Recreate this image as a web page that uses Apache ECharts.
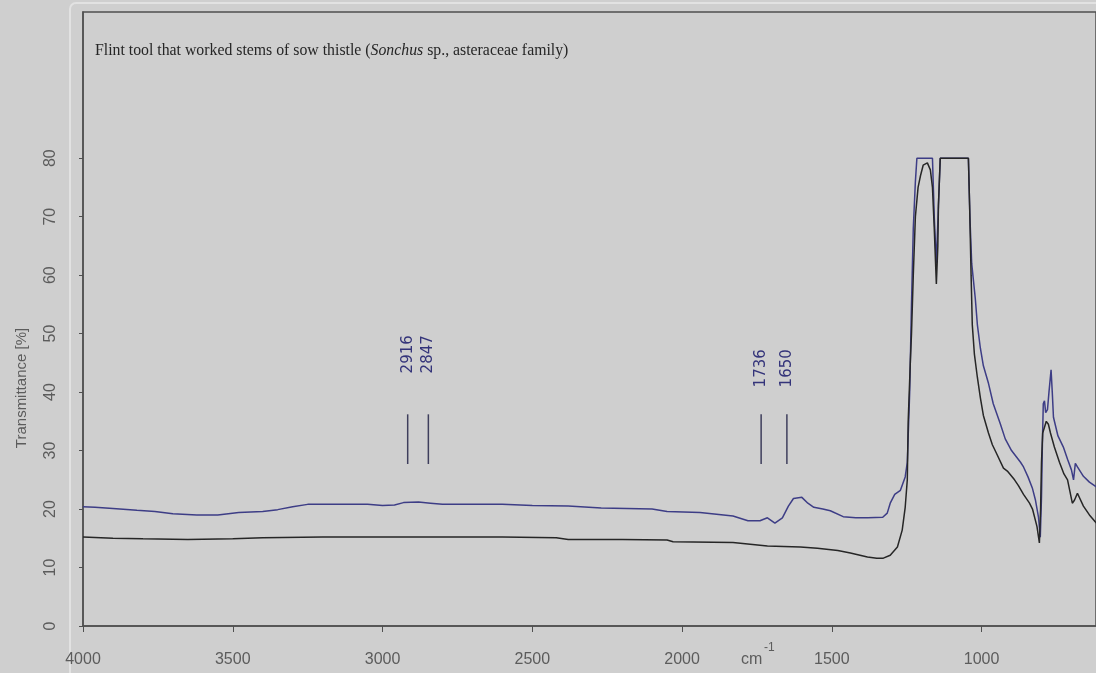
<!DOCTYPE html>
<html>
<head>
<meta charset="utf-8">
<title>IR spectrum – flint tool, sow thistle</title>
<script src="https://cdn.jsdelivr.net/npm/echarts@6/dist/echarts.min.js"></script>
<style>
  html, body { margin: 0; padding: 0; background: #cfcfcf; }
  #chart { width: 1096px; height: 673px; }
</style>
</head>
<body>
<div id="chart"></div>
<script>
// Upper (blue) trace: [wavenumber cm-1, transmittance %]
const spectrumUpper = [
  [4000,20.4],[3960,20.3],[3900,20.1],[3820,19.8],[3760,19.6],[3700,19.2],[3620,19.0],
  [3550,19.0],[3480,19.4],[3400,19.6],[3350,19.9],[3300,20.4],[3250,20.8],[3150,20.8],
  [3050,20.8],[3000,20.6],[2960,20.7],[2930,21.1],[2880,21.2],[2840,21.0],[2800,20.8],
  [2700,20.8],[2600,20.8],[2500,20.6],[2380,20.5],[2270,20.2],[2100,20.0],[2050,19.6],
  [1940,19.4],[1830,18.8],[1780,18.0],[1740,18.0],[1715,18.5],[1690,17.6],[1665,18.5],
  [1645,20.5],[1628,21.8],[1600,22.0],[1580,21.0],[1560,20.3],[1530,20.0],[1505,19.7],
  [1462,18.7],[1420,18.5],[1380,18.5],[1330,18.6],[1315,19.3],[1305,21.0],[1290,22.5],
  [1271,23.2],[1255,25.5],[1248,28],[1240,40],[1234,55],[1228,68],[1221,76],[1216,80],
  [1164,80],[1158,70],[1151,62],[1144,72],[1138,80],[1044,80],[1039,70],[1033,62],
  [1021,56],[1014,51.5],[1004,47.5],[994,44.5],[977,41.5],[961,38],[937,34.5],[921,32],
  [900,30],[870,28],[860,27.2],[845,25.5],[830,23.5],[820,21.5],[810,18.6],[804,15.2],
  [800,22],[797,31],[794,38],[790,38.5],[786,36.5],[780,37],[775,40],[768,43.8],
  [764,40],[760,35.7],[745,32.5],[727,30.6],[713,28.5],[700,26.7],[693,25.0],[687,27.8],
  [680,27.2],[660,25.6],[640,24.6],[617,23.8]
];

// Lower (black) trace: [wavenumber cm-1, transmittance %]
const spectrumLower = [
  [4000,15.2],[3900,15.0],[3800,14.9],[3650,14.8],[3500,14.9],[3400,15.1],[3200,15.2],
  [3000,15.2],[2800,15.2],[2600,15.2],[2420,15.1],[2380,14.8],[2200,14.8],[2050,14.7],
  [2030,14.4],[1830,14.3],[1715,13.7],[1605,13.5],[1548,13.3],[1480,12.9],[1438,12.5],
  [1381,11.8],[1350,11.6],[1328,11.6],[1305,12.1],[1281,13.5],[1265,16.4],[1255,20.3],
  [1248,25],[1245,35],[1238,45],[1234,50],[1228,60],[1221,70],[1212,75],[1204,77],
  [1195,78.8],[1181,79.2],[1171,78],[1164,75],[1158,68],[1151,58.5],[1146,65],
  [1144,72],[1138,80],[1044,80],[1040,72],[1035,60],[1031,51.5],[1024,46.5],[1014,42.5],
  [1004,39],[994,36],[977,33],[964,31],[950,29.5],[927,27],[914,26.5],[890,25],
  [877,24],[860,22.5],[840,21],[830,20],[815,17],[807,14.2],[803,20],[800,28],
  [796,33],[790,34],[784,35],[777,34.5],[770,33],[757,30.6],[740,28],[725,26],
  [713,25],[697,21],[690,21.5],[680,22.7],[660,20.5],[640,19],[617,17.6]
];

// Annotated absorption bands
const peakWavenumbers = [2916, 2847, 1736, 1650];

// Axis tick labels
const xTickValues = [4000, 3500, 3000, 2500, 2000, 1500, 1000];
const yTickValues = [0, 10, 20, 30, 40, 50, 60, 70, 80];

const chart = echarts.init(document.getElementById('chart'), null, { renderer: 'canvas' });

const axisGray = '#505050';
const labelGray = '#5c5c5c';

chart.setOption({
  backgroundColor: '#cfcfcf',
  animation: false,
  title: {
    left: 90,
    top: 38,
    text: '{r|Flint tool that worked stems of sow thistle (}{i|Sonchus}{r| sp., asteraceae family)}',
    textStyle: {
      fontWeight: 'normal',
      rich: {
        r: { fontFamily: 'Liberation Serif', fontSize: 15.8, fontWeight: 'normal', color: '#262626' },
        i: { fontFamily: 'Liberation Serif', fontSize: 15.8, fontWeight: 'normal', fontStyle: 'italic', color: '#262626' }
      }
    }
  },
  grid: {
    left: 83,
    right: 0,
    top: 12,
    bottom: 47,
    show: true,
    borderColor: axisGray,
    borderWidth: 1.5,
    backgroundColor: 'transparent'
  },
  xAxis: {
    type: 'value',
    inverse: true,
    // the recorded range runs on past the right edge of the frame
    min: 618,
    max: 4000,
    axisLine: { show: true, lineStyle: { color: axisGray, width: 1.5 } },
    axisTick: { show: true, length: 6, customValues: xTickValues, lineStyle: { color: axisGray } },
    axisLabel: {
      customValues: xTickValues,
      formatter: v => String(v),
      margin: 26,
      color: labelGray,
      fontFamily: 'Liberation Sans',
      fontSize: 16
    },
    splitLine: { show: false }
  },
  yAxis: {
    type: 'value',
    min: 0,
    max: 105,
    interval: 10,
    axisLine: { show: true, lineStyle: { color: axisGray, width: 1.5 } },
    axisTick: { show: true, length: 4, customValues: yTickValues, lineStyle: { color: axisGray } },
    axisLabel: {
      customValues: yTickValues,
      formatter: v => String(v),
      rotate: 90,
      margin: 24,
      color: labelGray,
      fontFamily: 'Liberation Sans',
      fontSize: 16
    },
    splitLine: { show: false }
  },
  graphic: [
    {
      type: 'rect',
      silent: true,
      shape: { x: 70, y: 3, width: 1100, height: 700, r: 6 },
      style: { fill: 'none', stroke: '#e2e2e2', lineWidth: 2 }
    },
    {
      type: 'text',
      x: 22,
      y: 388,
      rotation: Math.PI / 2,
      style: {
        text: 'Transmittance [%]',
        font: '15px "Liberation Sans"',
        fill: labelGray,
        textAlign: 'center',
        textVerticalAlign: 'middle'
      }
    },
    {
      type: 'text',
      x: 741,
      y: 660,
      style: {
        text: 'cm',
        font: '16px "Liberation Sans"',
        fill: labelGray,
        textAlign: 'left',
        textVerticalAlign: 'middle'
      }
    },
    {
      type: 'text',
      x: 764,
      y: 648,
      style: {
        text: '-1',
        font: '12px "Liberation Sans"',
        fill: labelGray,
        textAlign: 'left',
        textVerticalAlign: 'middle'
      }
    }
  ],
  series: [
    {
      name: 'upper',
      type: 'line',
      data: spectrumUpper,
      showSymbol: false,
      smooth: false,
      lineStyle: { color: '#3d3d86', width: 1.5 },
      z: 3
    },
    {
      name: 'lower',
      type: 'line',
      data: spectrumLower,
      showSymbol: false,
      smooth: false,
      lineStyle: { color: '#262626', width: 1.5 },
      z: 4
    },
    {
      // band markers: short vertical bar with the rotated wavenumber above it
      name: 'bands',
      type: 'custom',
      data: peakWavenumbers.map(w => [w]),
      encode: { x: 0 },
      clip: false,
      z: 5,
      renderItem: function (params, api) {
        const w = api.value(0);
        const top = api.coord([w, 36.2]);
        const bottom = api.coord([w, 27.7]);
        const labelAt = api.coord([w, w > 2500 ? 43.2 : 40.8]);
        return {
          type: 'group',
          children: [
            {
              type: 'line',
              shape: { x1: top[0], y1: top[1], x2: bottom[0], y2: bottom[1] },
              style: { stroke: '#3e3e5c', lineWidth: 1.5 }
            },
            {
              type: 'text',
              x: labelAt[0],
              y: labelAt[1],
              rotation: Math.PI / 2,
              style: {
                text: String(w),
                font: '15px "DejaVu Sans"',
                fill: '#34347a',
                textAlign: 'left',
                textVerticalAlign: 'middle'
              }
            }
          ]
        };
      }
    }
  ]
});
</script>
</body>
</html>
